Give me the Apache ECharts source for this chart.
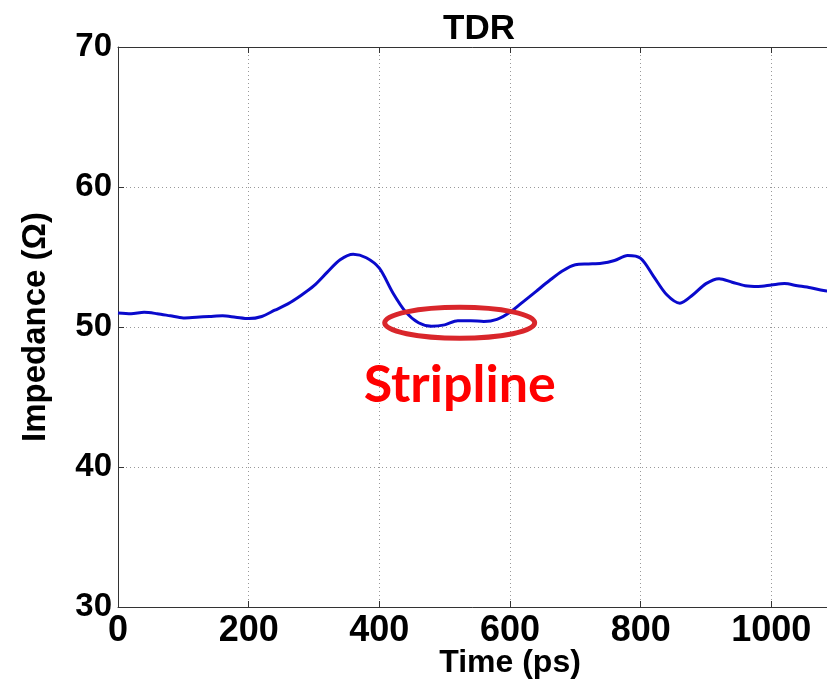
<!DOCTYPE html>
<html>
<head>
<meta charset="utf-8">
<script src="https://cdn.jsdelivr.net/npm/echarts@6/dist/echarts.min.js"></script>
<style>
  html, body { margin: 0; padding: 0; background: #fff; }
  #chart { width: 827px; height: 683px; }
</style>
</head>
<body>
<div id="chart"></div>
<script>
  // TDR trace (ps, ohm)
  var timePs = [0, 20, 40, 60, 80, 100, 120, 140, 160, 180, 200, 220, 240, 260, 280, 300,
    320, 340, 360, 380, 400, 420, 440, 460, 480, 500, 520, 540, 560, 580, 600, 620, 640,
    660, 680, 700, 720, 740, 760, 780, 800, 820, 840, 860, 880, 900, 920, 940, 960, 980,
    1000, 1020, 1040, 1060, 1080, 1100]
  var impedance = [51.0, 50.95, 51.05, 50.95, 50.8, 50.65, 50.7, 50.75, 50.8, 50.7, 50.6,
    50.75, 51.2, 51.65, 52.25, 52.95, 53.9, 54.8, 55.2, 54.95, 54.2, 52.5, 51.1, 50.3,
    50.05, 50.15, 50.45, 50.45, 50.4, 50.55, 51.05, 51.8, 52.55, 53.3, 54.0, 54.45, 54.5,
    54.55, 54.75, 55.1, 54.9, 53.6, 52.3, 51.7, 52.3, 53.1, 53.45, 53.2, 52.95, 52.9,
    53.0, 53.1, 52.95, 52.8, 52.6, 52.5]
  var xTicks = [0, 200, 400, 600, 800, 1000, 1200]
  var yTicks = [30, 40, 50, 60, 70]

  // annotation: ellipse around the stripline section
  var stripCenter = [523, 50.3]
  var stripLabel = 'Stripline'

  var chart = echarts.init(document.getElementById('chart'))

  var axisFont = {
    fontFamily: '"Liberation Sans", Arial, sans-serif',
    fontWeight: 'bold',
    color: '#000'
  }

  chart.setOption({
    animation: false,
    backgroundColor: '#fff',
    title: {
      text: 'TDR',
      left: 474,
      top: 7,
      textAlign: 'center',
      textStyle: Object.assign({fontSize: 35}, axisFont)
    },
    grid: {
      left: 118,
      top: 47,
      right: -75,
      bottom: 76,
      outerBoundsMode: 'none',
      containLabel: false
    },
    xAxis: [
      {
        type: 'value',
        min: xTicks[0],
        max: xTicks[xTicks.length - 1],
        interval: 200,
        name: 'Time (ps)',
        nameLocation: 'middle',
        nameGap: 40,
        nameMoveOverlap: false,
        nameTextStyle: Object.assign({fontSize: 32, verticalAlign: 'top'}, axisFont),
        axisLine: {lineStyle: {color: '#333', width: 1}},
        axisTick: {inside: true, length: 6, lineStyle: {color: '#333'}},
        axisLabel: Object.assign({
          fontSize: 36,
          margin: 6,
          formatter: function (v) { return String(v) }
        }, axisFont),
        splitLine: {show: true, lineStyle: {type: [1, 3], color: '#999'}}
      },
      {
        type: 'value',
        position: 'top',
        min: xTicks[0],
        max: xTicks[xTicks.length - 1],
        interval: 200,
        axisLine: {show: true, lineStyle: {color: '#333', width: 1}},
        axisTick: {inside: true, length: 6, lineStyle: {color: '#333'}},
        axisLabel: {show: false},
        splitLine: {show: false}
      }
    ],
    yAxis: {
      type: 'value',
      min: yTicks[0],
      max: yTicks[yTicks.length - 1],
      interval: 10,
      name: 'Impedance (Ω)',
      nameLocation: 'middle',
      nameGap: 66,
      nameMoveOverlap: false,
      nameTextStyle: Object.assign({fontSize: 33}, axisFont),
      axisLine: {show: true, lineStyle: {color: '#333', width: 1}},
      axisTick: {show: true, inside: true, length: 6, lineStyle: {color: '#333'}},
      axisLabel: Object.assign({fontSize: 33, margin: 6}, axisFont),
      splitLine: {show: true, lineStyle: {type: [1, 3], color: '#999'}}
    },
    series: [{
      type: 'line',
      data: timePs.map(function (t, i) { return [t, impedance[i]] }),
      showSymbol: false,
      smooth: 0.3,
      lineStyle: {color: '#0a0acc', width: 3}
    }]
  })

  var c = chart.convertToPixel({gridIndex: 0}, stripCenter)
  chart.setOption({
    graphic: [
      {
        type: 'ellipse',
        shape: {cx: c[0], cy: c[1], rx: 75, ry: 15.5},
        style: {fill: null, stroke: '#d9262b', lineWidth: 5},
        z: 100
      },
      {
        type: 'text',
        x: c[0],
        y: c[1] + 62,
        style: {
          text: stripLabel,
          fill: '#ff0000',
          font: 'bold 52px Lato, "Open Sans", sans-serif',
          textAlign: 'center',
          textVerticalAlign: 'middle'
        },
        z: 100
      }
    ]
  })
</script>
</body>
</html>
